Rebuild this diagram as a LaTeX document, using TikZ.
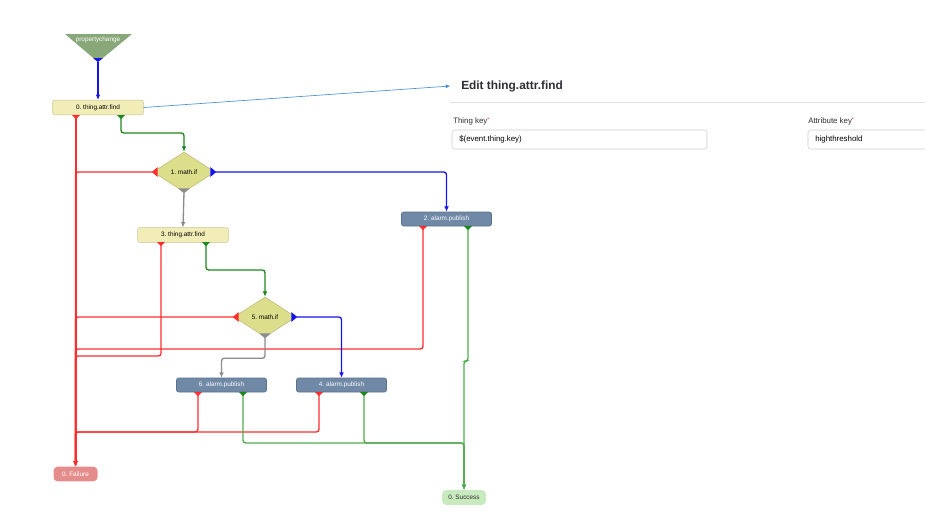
\documentclass[tikz,border=0pt]{standalone}
\usepackage{fontspec}
\setmainfont{Liberation Sans}
\usetikzlibrary{arrows.meta, positioning, shapes.geometric}
\definecolor{findfill}{RGB}{242, 236, 183}
\definecolor{findedge}{RGB}{200, 196, 150}
\definecolor{iffill}{RGB}{221, 222, 140}
\definecolor{ifedge}{RGB}{185, 185, 120}
\definecolor{pubfill}{RGB}{112, 137, 166}
\definecolor{pubedge}{RGB}{90, 112, 140}
\definecolor{failfill}{RGB}{229, 141, 141}
\definecolor{succfill}{RGB}{200, 234, 190}
\definecolor{trifill}{RGB}{136, 168, 122}
\definecolor{redline}{RGB}{255, 45, 45}
\definecolor{greendk}{RGB}{30, 135, 30}
\definecolor{greenlt}{RGB}{80, 170, 80}
\definecolor{blueline}{RGB}{20, 20, 235}
\definecolor{grayline}{RGB}{140, 140, 140}
\definecolor{linkblue}{RGB}{74, 144, 217}
\definecolor{fieldedge}{RGB}{205, 205, 205}
\definecolor{sepgray}{RGB}{225, 225, 225}
\definecolor{inktext}{RGB}{45, 45, 50}
\definecolor{req}{RGB}{220, 40, 40}
\newcommand{\flowfont}{\fontsize{4.8}{5.5}\selectfont}
\newcommand{\formfont}{\fontsize{5.9}{7}\selectfont}
\newcommand{\titlefont}{\fontsize{8.9}{10}\selectfont\bfseries}
\newcommand{\portdown}[2]{\fill[#2] (#1) ++(-4,0) -- ++(8,0) -- ++(-4,4) -- cycle;}
\frenchspacing

\begin{document}
\begin{tikzpicture}[
  x=0.75pt, y=-0.75pt,
  findbox/.style={draw=findedge, fill=findfill, rounded corners=1.5pt, inner sep=0pt, font=\flowfont, minimum width=68pt, minimum height=11pt},
  pubbox/.style={draw=pubedge, fill=pubfill, rounded corners=1.5pt, inner sep=0pt, font=\flowfont, text=white, minimum width=67.5pt, minimum height=10.5pt},
  ifbox/.style={diamond, aspect=1.55, draw=ifedge, fill=iffill, inner sep=0pt, font=\flowfont, minimum width=46.5pt, minimum height=30pt},
  endbox/.style={rounded corners=3pt, inner sep=0pt, font=\flowfont, minimum width=33pt, minimum height=11pt},
  field/.style={draw=fieldedge, rounded corners=2pt, minimum height=14.25pt, inner sep=0pt},
  flow/.style={line width=1pt, rounded corners=2pt, -{Latex[length=4pt, width=3.5pt]}},
  plain/.style={line width=1pt, rounded corners=2pt}
]
\useasboundingbox (0,0) rectangle (950,519);

\fill[trifill] (65,34) -- (132,34) -- (98,62) -- cycle;
\node[font=\flowfont, text=white] (pcl) at (98,40) {propertychange};
\coordinate (pctip) at (98,62);
\fill[blueline] (pctip) ++(-5,-4) -- ++(10,0) -- ++(-5,4) -- cycle;

\node[findbox] (f0) at (98,107.5) {0. thing.attr.find};
\node[ifbox] (d1) at (184,172) {1. math.if};
\node[findbox] (f3) at (183,235) {3. thing.attr.find};
\node[pubbox] (a2) at (446.5,219) {2. alarm.publish};
\node[ifbox] (d5) at (265,317) {5. math.if};
\node[pubbox] (a6) at (221.5,385) {6. alarm.publish};
\node[pubbox] (a4) at (341.5,385) {4. alarm.publish};
\node[endbox, fill=failfill, text=white] (fail) at (75.5,474) {0. Failure};
\node[endbox, fill=succfill, text=inktext] (succ) at (464,497.5) {0. Success};

\coordinate (f0r) at (76,115);
\coordinate (f0g) at (121,115);
\coordinate (f3r) at (161,242);
\coordinate (f3g) at (206,242);
\coordinate (a2r) at (423,226);
\coordinate (a2g) at (468,226);
\coordinate (a6r) at (198,392);
\coordinate (a6g) at (243,392);
\coordinate (a4r) at (319,392);
\coordinate (a4g) at (364,392);

\draw[flow, blueline] (pctip) -- (f0.north);
\draw[flow, greendk] (f0g) -- ++(0,18) -| (d1.north);
\draw[flow, redline] (f0r) -- (f0r |- fail.north);
\draw[flow, redline] (d1.west) -| (fail.north);
\draw[flow, blueline] (d1.east) -| (a2.north);
\draw[flow, grayline] (d1.south) -- (f3.north);
\draw[flow, greendk] (f3g) -- ++(0,28) -| (d5.north);
\draw[flow, redline] (f3r) -- ++(0,114) -| (fail.north);
\draw[flow, redline] (a2r) -- ++(0,123) -| (fail.north);
\draw[flow, greenlt] (a2g) -- ++(0,135) -| (succ.north);
\draw[flow, redline] (d5.west) -| (fail.north);
\draw[flow, blueline] (d5.east) -| (a4.north);
\draw[flow, grayline] (d5.south) -- ++(0,21) -| (a6.north);
\draw[flow, redline] (a6r) -- ++(0,40) -| (fail.north);
\draw[flow, redline] (a4r) -- ++(0,40) -| (fail.north);
\draw[flow, greenlt] (a6g) -- ++(0,51) -| (succ.north);
\draw[flow, greenlt] (a4g) -- ++(0,51) -| (succ.north);

\portdown{f0r}{redline}
\portdown{f0g}{greendk}
\portdown{f3r}{redline}
\portdown{f3g}{greendk}
\portdown{a2r}{redline}
\portdown{a2g}{greendk}
\portdown{a6r}{redline}
\portdown{a6g}{greendk}
\portdown{a4r}{redline}
\portdown{a4g}{greendk}
\foreach \d in {d1, d5} {
  \fill[redline] (\d.west) ++(5,-5) -- ++(0,10) -- ++(-6,-5) -- cycle;
  \fill[blueline] (\d.east) ++(-5,-5) -- ++(0,10) -- ++(6,-5) -- cycle;
  \fill[grayline] (\d.south) ++(-6,-4) -- ++(12,0) -- ++(-6,5) -- cycle;
}

\node[font=\titlefont, text=inktext, anchor=west, inner sep=0pt] (title) at (461,86) {Edit thing.attr.find};
\draw[line width=0.5pt, linkblue, -{Latex[length=3.5pt, width=3pt]}] (f0.east) -- ([xshift=-8]title.west);
\draw[sepgray, line width=0.5pt] (450,102) -- (925,102);

\node[font=\formfont, text=inktext, anchor=west, inner sep=0pt] (thinglbl) at (453,121) {Thing key\textcolor{req}{\raisebox{1.5pt}{\fontsize{4}{4}\selectfont*}}};
\node[field, minimum width=191.25pt] (thingin) at (579.5,139.5) {};
\node[font=\formfont, text=black, anchor=west, inner sep=0pt] (thingval) at (459,139.5) {\$(event.thing.key)};

\node[font=\formfont, text=inktext, anchor=west, inner sep=0pt] (attrlbl) at (808,121) {Attribute key\textcolor{req}{\raisebox{1.5pt}{\fontsize{4}{4}\selectfont*}}};
\begin{scope}
\clip (0,0) rectangle (925,519);
\node[field, minimum width=114pt] (attrin) at (884,139.5) {};
\end{scope}
\node[font=\formfont, text=black, anchor=west, inner sep=0pt] (attrval) at (815,139.5) {highthreshold};
\end{tikzpicture}
\end{document}
